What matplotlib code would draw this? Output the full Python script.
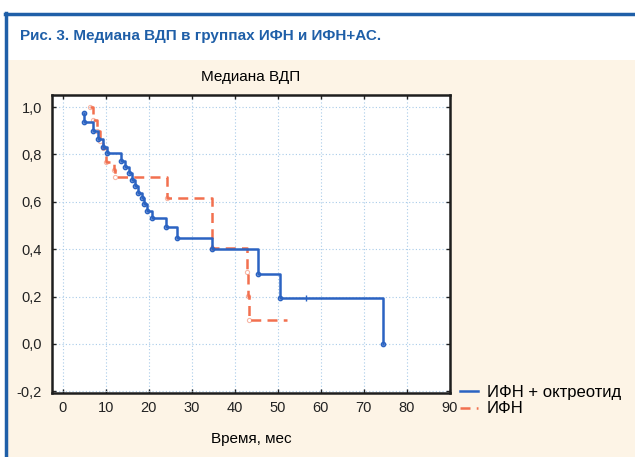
import matplotlib.pyplot as plt
from matplotlib.patches import Rectangle
from matplotlib.lines import Line2D
from matplotlib.ticker import FuncFormatter

plt.rcParams['font.family'] = ['Liberation Sans', 'DejaVu Sans']

# Kaplan-Meier points (time in months, survival share)
ifn_oct_time = [4.9, 5.0, 7.0, 8.2, 9.3, 10.2, 13.5, 14.5, 15.3, 16.0, 16.8, 17.6,
                18.4, 18.8, 19.6, 20.7, 23.9, 26.6, 34.7, 45.3, 50.5, 74.6]
ifn_oct_surv = [0.974, 0.936, 0.90, 0.865, 0.83, 0.808, 0.774, 0.748, 0.72, 0.694,
                0.666, 0.638, 0.615, 0.589, 0.561, 0.533, 0.492, 0.448, 0.399,
                0.294, 0.196, 0.0]
ifn_oct_censored_time = [56.7]
ifn_oct_censored_surv = [0.196]

ifn_time = [6.3, 7.1, 7.9, 8.7, 9.4, 10.0, 11.8, 12.2, 24.2, 34.8, 42.8, 43.1, 43.4, 52.1]
ifn_surv = [1.0, 0.945, 0.897, 0.855, 0.827, 0.77, 0.736, 0.704, 0.616, 0.406,
            0.305, 0.203, 0.1, 0.1]

series_labels = ['ИФН + октреотид', 'ИФН']
x_ticks = [0, 10, 20, 30, 40, 50, 60, 70, 80, 90]
y_ticks = [-0.2, 0.0, 0.2, 0.4, 0.6, 0.8, 1.0]

blue = '#2b63c2'
red = '#f2704f'
frame_blue = '#1f5fa8'
cream = '#fdf4e6'

W, H = 635, 457
fig = plt.figure(figsize=(W / 100, H / 100), dpi=100)
fig.patch.set_facecolor('white')

# page background: cream panel, blue frame, white heading band
fig.patches.append(Rectangle((7 / W, 0), 1, 1 - 60 / H, transform=fig.transFigure,
                             facecolor=cream, edgecolor='none', zorder=-5))
fig.add_artist(Line2D([6 / W, 6 / W], [0, 1 - 13 / H], transform=fig.transFigure,
                      color=frame_blue, lw=2.5, zorder=-4))
fig.add_artist(Line2D([5 / W, 1], [1 - 14 / H, 1 - 14 / H], transform=fig.transFigure,
                      color=frame_blue, lw=2.5, zorder=-4))
fig.text(20 / W, 1 - 36 / H, 'Рис. 3. Медиана ВДП в группах ИФН и ИФН+АС.',
         weight='bold', fontsize=11, color=frame_blue, va='center', ha='left')

ax = fig.add_axes([51.7 / W, 1 - 392.5 / H, (450 - 51.7) / W, (392.5 - 94.5) / H])
ax.set_facecolor('white')

ax.step(ifn_oct_time, ifn_oct_surv, where='post', color=blue, lw=1.8,
        label=series_labels[0], zorder=4)
ax.plot(ifn_oct_time, ifn_oct_surv, ls='none', marker='o', ms=3, mfc='none',
        mec=blue, mew=1.1, zorder=5)
ax.plot(ifn_oct_censored_time, ifn_oct_censored_surv, ls='none', marker='|', ms=4,
        color=blue, mew=1.0, zorder=5)

ax.step(ifn_time, ifn_surv, where='post', color=red, lw=1.8, ls=(0, (4, 2.5)),
        label=series_labels[1], zorder=3)
ax.plot(ifn_time[:-1], ifn_surv[:-1], ls='none', marker='o', ms=3, mfc='none',
        mec=red, mew=0.8, alpha=0.5, zorder=3)

ax.set_xlim(-2.6, 90.1)
ax.set_ylim(-0.205, 1.053)
ax.set_xticks(x_ticks)
ax.set_yticks(y_ticks)
ax.yaxis.set_major_formatter(FuncFormatter(lambda v, p: f'{v:.1f}'.replace('.', ',')))
ax.tick_params(direction='in', length=3, width=1, top=True, right=True,
               labelsize=10.5, colors='#222222', pad=6)
ax.tick_params(axis='y', pad=7)
ax.grid(True, color='#a9cbe9', ls=(0, (1, 2)), lw=0.8)
for s in ax.spines.values():
    s.set_linewidth(1.8)
    s.set_color('#1e1e1e')

ax.set_title('Медиана ВДП', fontsize=11, pad=10)
ax.set_xlabel('Время, мес', fontsize=11, labelpad=12)

ax.legend(loc='upper left', bbox_to_anchor=(1.025, 0.025), frameon=False,
          fontsize=12, handlelength=1.1, handletextpad=0.5, labelspacing=0.08,
          borderpad=0, borderaxespad=0)

fig.savefig('out.png', dpi=100, facecolor=fig.get_facecolor())
